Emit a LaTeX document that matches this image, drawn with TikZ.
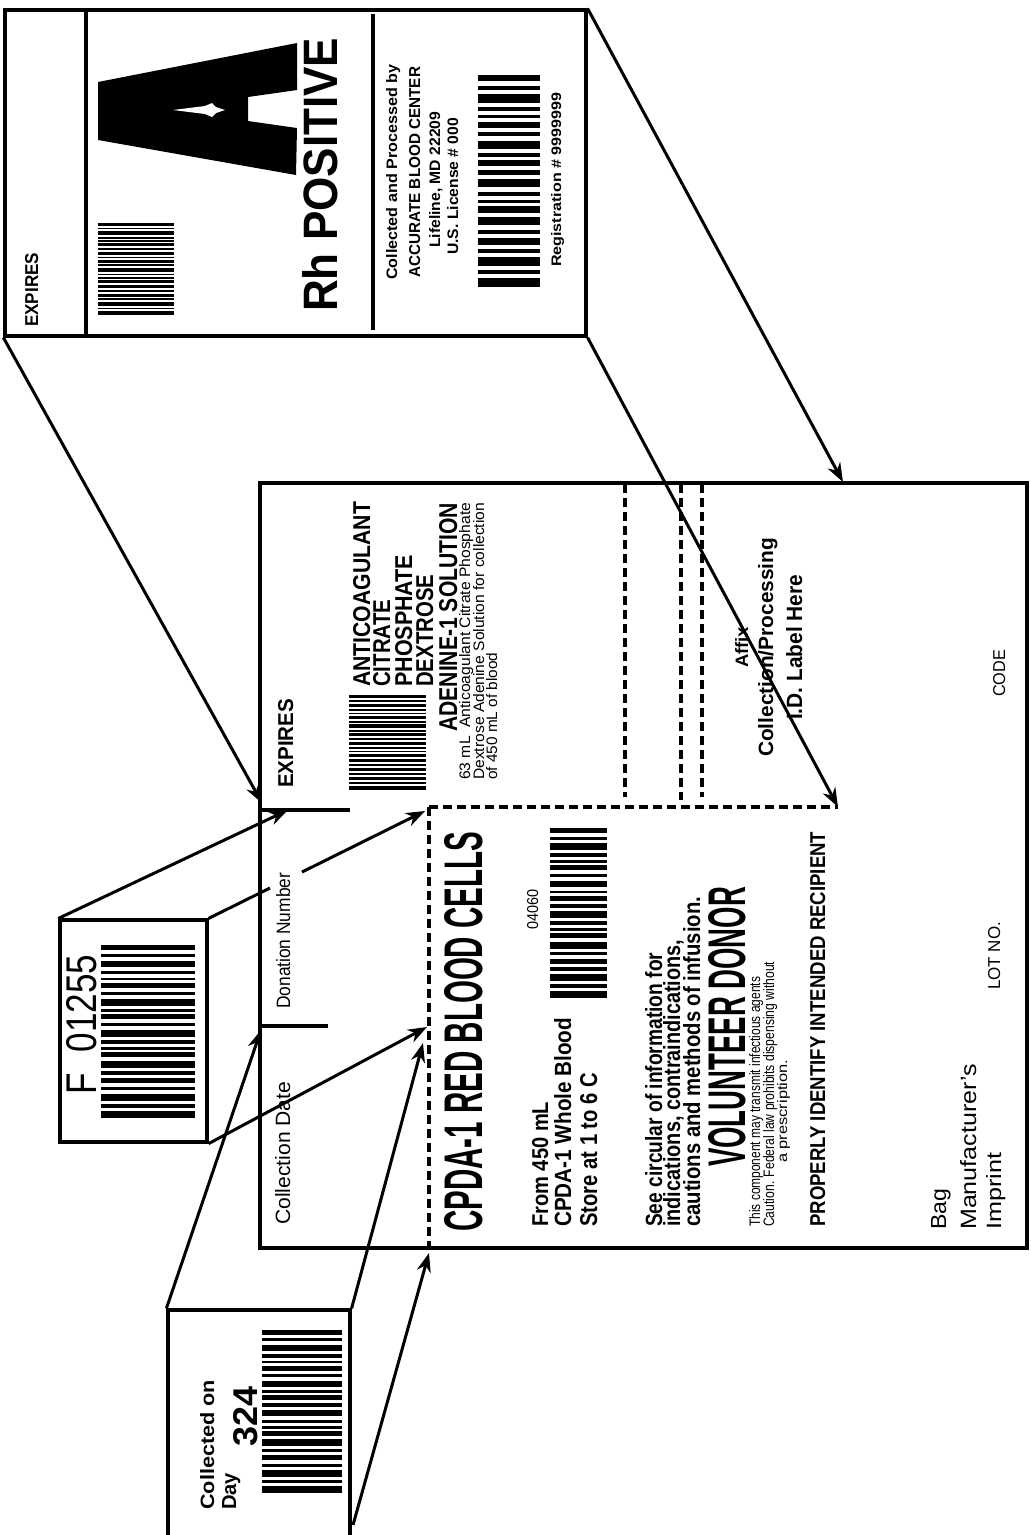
\documentclass[tikz,border=0pt]{standalone}
\usepackage{fontspec}
\setmainfont{Liberation Sans}
\usepackage{graphicx}
\usetikzlibrary{arrows.meta}
\newcommand{\FitText}[3]{\resizebox{#1pt}{#2pt}{#3}}
\newcommand{\BarCodeDraw}[4]{%
  \foreach \bs/\bw in {0/3,5/2,9/4,15/2,19/1.5,22/3,27/2,31/4,37/1.5,40/3,45/2,49/4,55/2,59/1.5,62/3,67/4,73/2,77/3,82/2,86/4,92/2,96/4}{%
    \fill ({#1},{#3+(#4-#3)*0.01*\bs}) rectangle ({#2},{#3+(#4-#3)*0.01*(\bs+\bw)});
  }}
\begin{document}
\begin{tikzpicture}[x=1pt,y=-1pt,
  lbl/.style={rotate=90,anchor=base west,inner sep=0pt},
  arr/.style={line width=3pt,-{Stealth[length=19pt,width=14pt,inset=6pt]}},
  frame/.style={draw,line width=3.2pt,inner sep=0pt},
  dsh/.style={line width=3.2pt,dash pattern=on 9pt off 5pt},
  solidline/.style={line width=3.2pt}]
\useasboundingbox[fill=white] (0,0) rectangle (1031,1535);

% ---------- top ABO label ----------
\node[frame,minimum width=581pt,minimum height=326pt] (toplabel) at (295.5,173) {};
\draw[solidline] (86,10) -- (86,336);
\draw[solidline] (373,14) -- (373,330);
\fill (98,82) -- (297,43) -- (297,90) -- (248,97) -- (248,121) -- (297,128) -- (296,175) -- (98,140) -- cycle;
\fill[white] (173,110) -- (205,106) -- (212,103) -- (216,107) -- (225,110) -- (216,113) -- (212,117) -- (205,114) -- cycle;
\BarCodeDraw{98}{174}{223}{315}
\BarCodeDraw{478}{540}{75}{287}
\node[lbl] (texp) at (38,327) {\FitText{74}{13}{\bfseries EXPIRES}};
\node[lbl] (trh) at (337,312) {\FitText{274}{35}{\bfseries Rh POSITIVE}};
\node[lbl] (tcol1) at (397,280) {\FitText{215}{11}{\bfseries Collected and Processed by}};
\node[lbl] (tcol2) at (420,278) {\FitText{211}{11}{\bfseries ACCURATE BLOOD CENTER}};
\node[lbl] (tcol3) at (440,248) {\FitText{136}{11}{\bfseries Lifeline, MD 22209}};
\node[lbl] (tcol4) at (458,255) {\FitText{137}{11}{\bfseries U.S. License \# 000}};
\node[lbl] (treg) at (561,267) {\FitText{174}{10}{\bfseries Registration \# 9999999}};

% ---------- main bag label ----------
\node[frame,minimum width=767pt,minimum height=765pt] (main) at (643.5,865.5) {};
\draw[solidline] (260,810) -- (350,810);
\draw[solidline] (260,1026) -- (328,1026);
\draw[dsh] (429,807) -- (838,807);
\draw[dsh] (429,807) -- (429,1248);
\draw[dsh] (625,484) -- (625,797);
\draw[dsh] (681,484) -- (681,800);
\draw[dsh] (702,484) -- (702,797);
\BarCodeDraw{349}{426}{695}{790}
\BarCodeDraw{550}{607}{828}{998}

\node[lbl] (mexp) at (293,788) {\FitText{89}{15}{\bfseries EXPIRES}};
\node[lbl] (mdon) at (290,1009) {\FitText{136}{14}{Donation Number}};
\node[lbl] (mcold) at (290,1225) {\FitText{143}{15}{Collection Date}};

\node[lbl] (ac1) at (370,687) {\FitText{185}{17}{\bfseries ANTICOAGULANT}};
\node[lbl] (ac2) at (390,687) {\FitText{87}{17}{\bfseries CITRATE}};
\node[lbl] (ac3) at (412,687) {\FitText{132}{17}{\bfseries PHOSPHATE}};
\node[lbl] (ac4) at (433,687) {\FitText{112}{17}{\bfseries DEXTROSE}};
\node[lbl] (ac5) at (457,732) {\FitText{229}{18}{\bfseries ADENINE-1 SOLUTION}};
\node[lbl] (ac6) at (470,780) {\FitText{277}{11}{63 mL\ \ Anticoagulant Citrate Phosphate}};
\node[lbl] (ac7) at (484,780) {\FitText{277}{11}{Dextrose Adenine Solution for collection}};
\node[lbl] (ac8) at (497,780) {\FitText{127}{11}{of 450 mL of blood}};

\node[lbl] (af1) at (748,668) {\FitText{41}{13}{\bfseries Affix}};
\node[lbl] (af2) at (773,757) {\FitText{219}{15}{\bfseries Collection/Processing}};
\node[lbl] (af3) at (802,720) {\FitText{145}{16}{\bfseries I.D. Label Here}};
\node[lbl] (tcode) at (1005,697) {\FitText{47}{12}{CODE}};
\node[lbl] (tlot) at (1000,990) {\FitText{68}{12}{LOT NO.}};

\node[lbl] (rbc) at (482,1232) {\FitText{400}{38}{\bfseries CPDA-1 RED BLOOD CELLS}};
\node[lbl] (tcode2) at (538,930) {\FitText{40}{11}{04060}};
\node[lbl] (fr1) at (548,1227) {\FitText{125}{16}{\bfseries From 450 mL}};
\node[lbl] (fr2) at (571,1227) {\FitText{209}{17}{\bfseries CPDA-1 Whole Blood}};
\node[lbl] (fr3) at (597,1227) {\FitText{154}{17}{\bfseries Store at 1 to 6 C}};
\node[lbl] (sc1) at (662,1227) {\FitText{274}{17}{\bfseries See circular of information for}};
\node[lbl] (sc2) at (680,1227) {\FitText{287}{17}{\bfseries indications, contraindications,}};
\node[lbl] (sc3) at (700,1227) {\FitText{330}{17}{\bfseries cautions and methods of infusion.}};
\node[lbl] (vol) at (745,1167) {\FitText{280}{37}{\bfseries VOLUNTEER DONOR}};
\node[lbl] (cw1) at (760,1227) {\FitText{250}{11}{This component may transmit infectious agents}};
\node[lbl] (cw2) at (774,1227) {\FitText{265}{11}{Caution. Federal law prohibits dispensing without}};
\node[lbl] (cw3) at (787,1163) {\FitText{103}{10}{a prescription.}};
\node[lbl] (prop) at (825,1227) {\FitText{395}{15}{\bfseries PROPERLY IDENTIFY INTENDED RECIPIENT}};
\node[lbl] (bag1) at (946,1230) {\FitText{41}{15}{Bag}};
\node[lbl] (bag2) at (976,1230) {\FitText{166}{16}{Manufacturer's}};
\node[lbl] (bag3) at (1001,1230) {\FitText{77}{15}{Imprint}};

% ---------- donation number label ----------
\node[frame,minimum width=147pt,minimum height=222pt] (fbox) at (133.5,1031) {};
\BarCodeDraw{101}{195}{945}{1118}
\node[lbl] (fnum) at (96,1095) {\FitText{140}{30}{F\hspace{0.6em}01255}};

% ---------- collection day label ----------
\node[frame,minimum width=182pt,minimum height=240pt] (cbox) at (259,1430) {};
\BarCodeDraw{262}{342}{1330}{1493}
\node[lbl] (cday1) at (214,1510) {\FitText{130}{14}{\bfseries Collected on}};
\node[lbl] (cday2) at (236,1510) {\FitText{37}{14}{\bfseries Day}};
\node[lbl] (cday3) at (257,1447) {\FitText{60}{24}{\bfseries 324}};

% ---------- connector end points ----------
\coordinate (tipA) at (262,803);
\coordinate (tipB) at (838,807);
\coordinate (tipC) at (843,482);
\coordinate (tipE) at (288,810);
\coordinate (gapF1) at (270,888);
\coordinate (gapF2) at (302,872);
\coordinate (tipF) at (425,811);
\coordinate (tipG) at (427,1027);
\coordinate (tipH) at (261,1030);
\coordinate (tipI) at (423,1043);
\coordinate (startJ) at (353,1525);
\coordinate (tipJ) at (429,1253);

\draw[arr] (toplabel.south west) -- (tipA);
\draw[arr] (toplabel.south east) -- (tipB);
\draw[arr] (toplabel.north east) -- (tipC);
\draw[arr] (fbox.north west) -- (tipE);
\draw[line width=3pt] (fbox.north east) -- (gapF1);
\draw[arr] (gapF2) -- (tipF);
\draw[arr] (fbox.south east) -- (tipG);
\draw[arr] (cbox.north west) -- (tipH);
\draw[arr] (cbox.north east) -- (tipI);
\draw[arr] (startJ) -- (tipJ);
\end{tikzpicture}
\end{document}
